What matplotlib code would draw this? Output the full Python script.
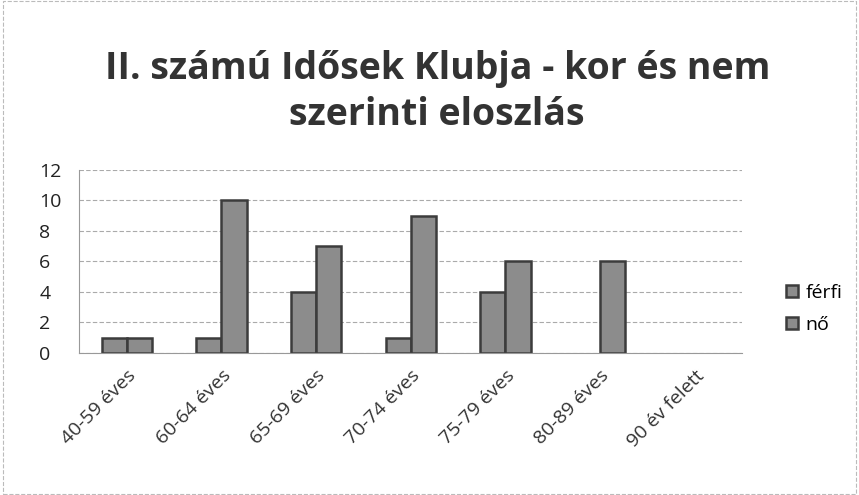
import matplotlib.pyplot as plt
import numpy as np

plt.rcParams['font.family'] = ['Open Sans', 'DejaVu Sans']

categories = ['40-59 éves', '60-64 éves', '65-69 éves', '70-74 éves',
              '75-79 éves', '80-89 éves', '90 év felett']
ferfi = [1, 1, 4, 1, 4, 0, 0]
no = [1, 10, 7, 9, 6, 6, 0]

fig = plt.figure(figsize=(8.59, 4.95), dpi=100)
ax = fig.add_axes([0.0925, 0.287, 0.7715, 0.37])

ind = np.arange(len(categories))
width = 0.265
ax.bar(ind - width/2, ferfi, width, color='#8c8c8c', edgecolor='#3c3c3c',
       linewidth=[1.8 if v else 0 for v in ferfi], label='férfi')
ax.bar(ind + width/2, no, width, color='#8c8c8c', edgecolor='#3c3c3c',
       linewidth=[1.8 if v else 0 for v in no], label='nő')

ax.set_xlim(-0.5, len(categories) - 0.5)
ax.set_ylim(0, 12)
ax.set_yticks(range(0, 13, 2))
ax.set_yticklabels([str(v) for v in range(0, 13, 2)], fontsize=14, color='#222222')
ax.set_xticks(ind)
ax.set_xticklabels(categories, rotation=45, ha='right', rotation_mode='anchor',
                   fontsize=14, color='#333333')
ax.tick_params(axis='x', length=0, pad=10)
ax.tick_params(axis='y', length=0, pad=29)
for lab in ax.get_yticklabels():
    lab.set_horizontalalignment('left')
ax.yaxis.grid(True, color='#aaaaaa', linestyle=(0, (4, 2)), linewidth=0.8)
ax.set_axisbelow(True)
for s in ['top', 'right']:
    ax.spines[s].set_visible(False)
ax.spines['left'].set_color('#999999')
ax.spines['bottom'].set_color('#999999')

fig.text(0.509, 0.814, 'II. számú Idősek Klubja - kor és nem\nszerinti eloszlás',
         ha='center', va='center', fontsize=27, fontweight='bold',
         color='#333333', linespacing=1.3)

leg = fig.legend(loc='center left', bbox_to_anchor=(0.895, 0.376), frameon=False,
                 fontsize=14, handlelength=0.6, handleheight=0.6,
                 handletextpad=0.4, labelspacing=0.75)

fig.patches.append(plt.Rectangle((0.003, 0.003), 0.994, 0.994, transform=fig.transFigure,
                                 fill=False, edgecolor='#bbbbbb', linestyle='--',
                                 linewidth=0.8))

plt.savefig('out.png', dpi=100)
